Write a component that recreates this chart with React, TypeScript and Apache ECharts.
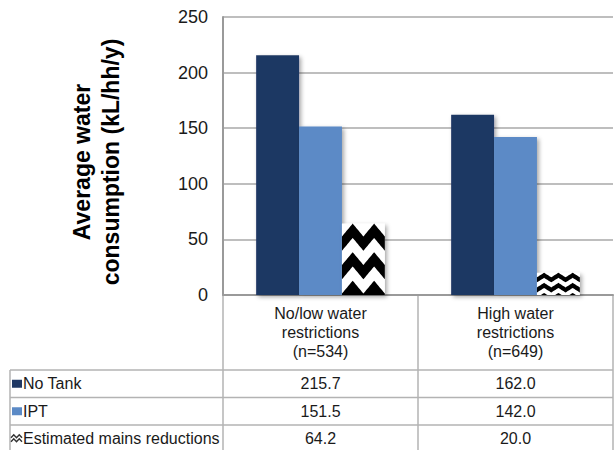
import React, { useEffect, useRef } from "react";
import * as echarts from "echarts";

// ---- data ----
const categories = ["No/low water\nrestrictions\n(n=534)", "High water\nrestrictions\n(n=649)"];
const seriesNames = ["No Tank", "IPT", "Estimated mains reductions"];
const noTank = [215.7, 162.0];
const ipt = [151.5, 142.0];
const mainsReductions = [64.2, 20.0];
const yTicks = [0, 50, 100, 150, 200, 250];
const yTitle = "Average water\nconsumption (kL/hh/y)";

// ---- style ----
const COLORS = ["#1f3864", "#5b8ac6", "#ffffff"];
const PATTERN_WAVES = [2, 3];
const PATTERN_BANDS = [2.5, 2.2];
const GAP = 0.34;
const FONT = "'Liberation Sans', Arial, Helvetica, sans-serif";
const GRID = { left: 223, right: 3, top: 17, bottom: 155 };
const TABLE_LEFT = 10;
const ROW_TOPS = [370, 397.5, 425];
const ROW_H = 27.5;
const LINE_COLOR = "#b3b3b3";

const shadow = {
  shadowBlur: 4,
  shadowColor: "rgba(0,0,0,0.35)",
  shadowOffsetX: 2,
  shadowOffsetY: 2,
};

function clamp(v: number, a: number, b: number) {
  return Math.max(a, Math.min(b, v));
}

export default function App() {
  const ref = useRef<HTMLDivElement>(null);

  useEffect(() => {
    if (!ref.current) return;
    const chart = echarts.init(ref.current, undefined, { renderer: "svg" });

    const option: any = {
      animation: false,
      backgroundColor: "#ffffff",
      grid: { ...GRID, containLabel: false },
      xAxis: {
        type: "category",
        data: categories,
        axisLine: { show: true, lineStyle: { color: "#9a9a9a", width: 2 } },
        axisTick: { show: false },
        axisLabel: { show: false },
        splitLine: { show: false },
      },
      yAxis: {
        type: "value",
        min: yTicks[0],
        max: yTicks[yTicks.length - 1],
        interval: yTicks[1] - yTicks[0],
        axisLine: { show: true, lineStyle: { color: "#9a9a9a", width: 2 } },
        axisTick: { show: false },
        axisLabel: {
          margin: 15,
          fontFamily: FONT,
          fontSize: 18,
          color: "#1a1a1a",
        },
        splitLine: { show: true, lineStyle: { color: "#a8a8a8", width: 1.5 } },
      },
      series: [
        {
          type: "bar",
          name: seriesNames[0],
          data: noTank,
          barGap: "0%",
          barCategoryGap: GAP * 100 + "%",
          itemStyle: { color: COLORS[0], ...shadow },
        },
        {
          type: "bar",
          name: seriesNames[1],
          data: ipt,
          itemStyle: { color: COLORS[1], ...shadow },
        },
        {
          type: "bar",
          name: seriesNames[2],
          data: mainsReductions,
          itemStyle: { color: COLORS[2], ...shadow },
        },
        {
          type: "custom",
          name: seriesNames[2] + " pattern",
          coordinateSystem: "cartesian2d",
          encode: { x: 0, y: 1 },
          z: 5,
          data: mainsReductions.map((v, i) => [i, v]),
          renderItem: (params: any, api: any) => {
            const idx = api.value(0);
            const val = api.value(1);
            const topPt = api.coord([idx, val]);
            const basePt = api.coord([idx, 0]);
            const bandW = api.size([1, 0])[0];
            const total = bandW * (1 - GAP);
            const bw = total / 3;
            const x0 = basePt[0] - total / 2 + 2 * bw;
            const y0 = topPt[1];
            const y1 = basePt[1];
            const h = y1 - y0;
            const waves = PATTERN_WAVES[idx] || 2;
            const bands = PATTERN_BANDS[idx] || 2;
            const P = h / bands;
            const A = P * 0.45;
            const T = P * 0.5;
            const N = 48;
            const children: any[] = [];
            for (let k = -1; k <= Math.ceil(bands) + 1; k++) {
              const b = y0 + A + k * P;
              const upper: number[][] = [];
              const lower: number[][] = [];
              let visible = false;
              for (let i = 0; i <= N; i++) {
                const u = i / N;
                const f = (u * waves) % 1;
                const t = 1 - Math.abs(f * 2 - 1);
                const x = x0 + u * bw;
                const yu = clamp(b - A * t, y0, y1);
                const yl = clamp(b + T - A * t, y0, y1);
                if (yl - yu > 0.01) visible = true;
                upper.push([x, yu]);
                lower.unshift([x, yl]);
              }
              if (!visible) continue;
              children.push({
                type: "polygon",
                shape: { points: upper.concat(lower) },
                style: { fill: "#000000" },
              });
            }
            return { type: "group", children };
          },
        },
      ],
    };
    chart.setOption(option);

    // ---- table and title drawn from the axis scale ----
    const c0 = chart.convertToPixel({ xAxisIndex: 0 }, 0) as number;
    const c1 = chart.convertToPixel({ xAxisIndex: 0 }, 1) as number;
    const bandW = c1 - c0;
    const centers = categories.map((_, i) => c0 + i * bandW);
    const colEdges = [centers[0] - bandW / 2, ...centers.map((c) => c + bandW / 2)];
    const zeroY = chart.convertToPixel({ yAxisIndex: 0 }, 0) as number;
    const tableBottom = ROW_TOPS[ROW_TOPS.length - 1] + ROW_H;
    const tableRight = colEdges[colEdges.length - 1];

    const g: any[] = [];
    const line = (x1: number, y1: number, x2: number, y2: number) =>
      g.push({
        type: "line",
        shape: { x1, y1, x2, y2 },
        style: { stroke: LINE_COLOR, lineWidth: 1.5 },
        silent: true,
      });

    // vertical lines
    colEdges.forEach((x, i) => line(x, i === 0 ? zeroY + 1 : zeroY, x, tableBottom));
    line(TABLE_LEFT, ROW_TOPS[0], TABLE_LEFT, tableBottom);
    // horizontal lines
    ROW_TOPS.forEach((y) => line(TABLE_LEFT, y, tableRight, y));
    line(TABLE_LEFT, tableBottom, tableRight, tableBottom);

    // header texts
    categories.forEach((cat, i) => {
      g.push({
        type: "text",
        x: centers[i],
        y: (zeroY + ROW_TOPS[0]) / 2 - 0.5,
        style: {
          text: cat,
          fill: "#1a1a1a",
          font: `16px ${FONT}`,
          lineHeight: 19,
          textAlign: "center",
          textVerticalAlign: "middle",
        },
        silent: true,
      });
    });

    const rows = [noTank, ipt, mainsReductions];
    rows.forEach((vals, r) => {
      const cy = ROW_TOPS[r] + ROW_H / 2;
      // legend key
      if (r < 2) {
        g.push({
          type: "rect",
          shape: { x: TABLE_LEFT + 2, y: cy - 4, width: 10, height: 8 },
          style: { fill: COLORS[r] },
          silent: true,
        });
      } else {
        for (let k = 0; k < 2; k++) {
          const yb = cy - 1 + k * 4;
          g.push({
            type: "polyline",
            shape: {
              points: [
                [TABLE_LEFT + 1, yb],
                [TABLE_LEFT + 3.75, yb - 3],
                [TABLE_LEFT + 6.5, yb],
                [TABLE_LEFT + 9.25, yb - 3],
                [TABLE_LEFT + 12, yb],
              ],
            },
            style: { stroke: "#333333", lineWidth: 1.4, fill: null },
            silent: true,
          });
        }
      }
      g.push({
        type: "text",
        x: TABLE_LEFT + 13,
        y: cy,
        style: {
          text: seriesNames[r],
          fill: "#1a1a1a",
          font: `16px ${FONT}`,
          textAlign: "left",
          textVerticalAlign: "middle",
        },
        silent: true,
      });
      vals.forEach((v, i) => {
        g.push({
          type: "text",
          x: centers[i],
          y: cy,
          style: {
            text: v.toFixed(1),
            fill: "#1a1a1a",
            font: `16px ${FONT}`,
            textAlign: "center",
            textVerticalAlign: "middle",
          },
          silent: true,
        });
      });
    });

    // y axis title
    g.push({
      type: "text",
      x: 96,
      y: 162,
      rotation: Math.PI / 2,
      style: {
        text: yTitle,
        fill: "#000000",
        font: `bold 23px ${FONT}`,
        lineHeight: 29,
        textAlign: "center",
        textVerticalAlign: "middle",
      },
      silent: true,
    });

    chart.setOption({ graphic: { elements: g } });

    return () => chart.dispose();
  }, []);

  return (
    <div
      ref={ref}
      style={{ position: "fixed", left: 0, top: 0, width: 616, height: 450, background: "#fff" }}
    />
  );
}
